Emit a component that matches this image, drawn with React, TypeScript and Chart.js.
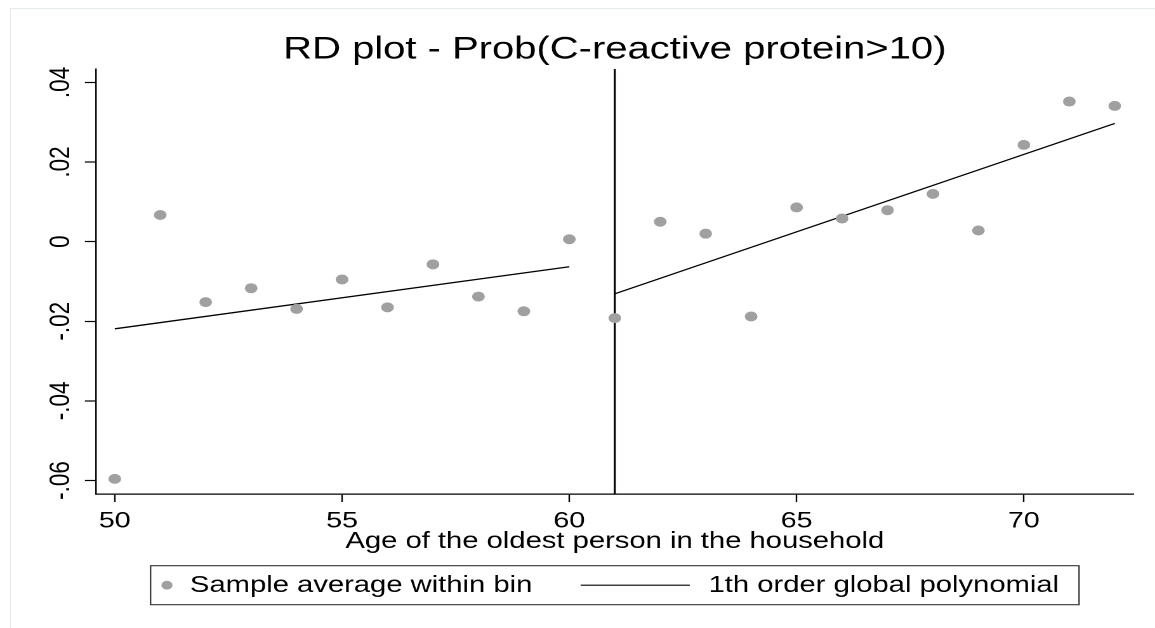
import { useEffect, useRef } from "react";
import { Chart, registerables } from "chart.js";

Chart.register(...registerables);

// ---- data ----
const bins = [50, 51, 52, 53, 54, 55, 56, 57, 58, 59, 60, 61, 62, 63, 64, 65, 66, 67, 68, 69, 70, 71, 72];
const binMeans = [
  -0.0596, 0.0067, -0.0152, -0.0117, -0.0169, -0.0095, -0.0165, -0.0057, -0.0138, -0.0175, 0.0006,
  -0.0192, 0.005, 0.002, -0.0188, 0.0086, 0.0058, 0.0079, 0.012, 0.0028, 0.0243, 0.0352, 0.0341,
];
const leftFitX = [50, 60];
const leftFitY = [-0.0219, -0.0063];
const rightFitX = [61, 72];
const rightFitY = [-0.0131, 0.0297];
const cutoff = 61;

const xTicks = [50, 55, 60, 65, 70];
const xTickLabels = ["50", "55", "60", "65", "70"];
const yTicks = [-0.06, -0.04, -0.02, 0, 0.02, 0.04];
const yTickLabels = ["-.06", "-.04", "-.02", "0", ".02", ".04"];

const titleText = "RD plot - Prob(C-reactive protein>10)";
const xTitle = "Age of the oldest person in the household";
const seriesLabels = ["Sample average within bin", "1th order global polynomial"];

const X_MIN = 49.586;
const X_MAX = 72.416;
const Y_MIN = -0.0634;
const Y_MAX = 0.0434;

// ---- layout / style ----
const FONT = "'Liberation Sans', Arial, Helvetica, sans-serif";
const INNER_W = 910;
const H = 628;
const STRETCH = 1155 / INNER_W;
const POINT_COLOR = "#a0a0a0";

const legendPlugin = {
  id: "stataLegend",
  afterDraw(chart: any) {
    const ctx = chart.ctx as CanvasRenderingContext2D;
    const ca = chart.chartArea;
    const w = 731.5;
    const h = 39;
    const left = (ca.left + ca.right) / 2 - w / 2;
    const top = ca.bottom + 71.7;
    const cy = top + h / 2;
    ctx.save();
    ctx.strokeStyle = "#333";
    ctx.lineWidth = 1.1;
    ctx.strokeRect(left, top, w, h);
    // item 1: marker
    ctx.fillStyle = POINT_COLOR;
    ctx.beginPath();
    ctx.arc(left + 12.9, cy, 4.4, 0, Math.PI * 2);
    ctx.fill();
    ctx.fillStyle = "#000";
    ctx.font = `23px ${FONT}`;
    ctx.textBaseline = "middle";
    ctx.textAlign = "left";
    ctx.fillText(chart.data.datasets[0].label, left + 31, cy + 0.5);
    // item 2: line
    ctx.strokeStyle = "#000";
    ctx.lineWidth = 1.2;
    ctx.beginPath();
    ctx.moveTo(left + 338.8, cy);
    ctx.lineTo(left + 424.8, cy);
    ctx.stroke();
    ctx.fillText(chart.data.datasets[1].label, left + 439.6, cy + 0.5);
    ctx.restore();
  },
};

export default function App() {
  const ref = useRef<HTMLCanvasElement>(null);

  useEffect(() => {
    const canvas = ref.current;
    if (!canvas) return;
    const chart = new Chart(canvas, {
      type: "scatter",
      data: {
        datasets: [
          {
            label: seriesLabels[0],
            data: bins.map((x, i) => ({ x, y: binMeans[i] })),
            pointRadius: 5,
            pointBackgroundColor: POINT_COLOR,
            pointBorderWidth: 0,
            showLine: false,
          },
          {
            label: seriesLabels[1],
            data: leftFitX.map((x, i) => ({ x, y: leftFitY[i] })),
            showLine: true,
            borderColor: "#000",
            borderWidth: 1.3,
            pointRadius: 0,
          },
          {
            label: seriesLabels[1] + " (right)",
            data: rightFitX.map((x, i) => ({ x, y: rightFitY[i] })),
            showLine: true,
            borderColor: "#000",
            borderWidth: 1.3,
            pointRadius: 0,
          },
          {
            label: "cutoff",
            data: [
              { x: cutoff, y: Y_MIN },
              { x: cutoff, y: Y_MAX },
            ],
            showLine: true,
            borderColor: "#000",
            borderWidth: 1.6,
            pointRadius: 0,
          },
        ],
      },
      options: {
        animation: false,
        responsive: true,
        maintainAspectRatio: false,
        devicePixelRatio: 2,
        events: [],
        layout: { padding: { left: 0, right: 16.8, top: 0, bottom: 72.7 } },
        font: { family: FONT },
        plugins: {
          legend: { display: false },
          tooltip: { enabled: false },
          title: {
            display: true,
            text: titleText,
            fullSize: false,
            color: "#000",
            font: { family: FONT, size: 31.5, weight: "normal" },
            padding: { top: 31.1, bottom: 0 },
          },
        },
        scales: {
          x: {
            type: "linear",
            min: X_MIN,
            max: X_MAX,
            afterBuildTicks: (s: any) => {
              s.ticks = xTicks.map((v) => ({ value: v }));
            },
            afterFit: (s: any) => {
              s.height = 61.3;
            },
            ticks: {
              callback: (_v: any, i: number) => xTickLabels[i],
              font: { family: FONT, size: 22.5 },
              color: "#000",
              padding: 5.8,
              maxRotation: 0,
              autoSkip: false,
            },
            grid: {
              drawOnChartArea: false,
              drawTicks: true,
              tickLength: 8,
              tickWidth: 1.2,
              tickColor: "#000",
            },
            border: { display: true, color: "#000", width: 1.3 },
            title: {
              display: true,
              text: xTitle,
              color: "#000",
              font: { family: FONT, size: 23 },
              padding: { top: 0, bottom: 0 },
            },
          },
          y: {
            type: "linear",
            min: Y_MIN,
            max: Y_MAX,
            afterBuildTicks: (s: any) => {
              s.ticks = yTicks.map((v) => ({ value: v }));
            },
            afterFit: (s: any) => {
              s.width = 75.6;
            },
            ticks: {
              callback: (_v: any, i: number) => yTickLabels[i],
              font: { family: FONT, size: 22.5 },
              color: "#000",
              padding: -1,
              minRotation: 90,
              maxRotation: 90,
              crossAlign: "center",
              autoSkip: false,
            },
            grid: {
              drawOnChartArea: false,
              drawTicks: true,
              tickLength: 8.7,
              tickWidth: 1.2,
              tickColor: "#000",
            },
            border: { display: true, color: "#000", width: 1.2 },
          },
        },
      },
      plugins: [legendPlugin],
    } as any);
    return () => chart.destroy();
  }, []);

  return (
    <div
      style={{
        position: "fixed",
        left: 0,
        top: 0,
        width: 1155,
        height: H,
        overflow: "hidden",
        background: "#fff",
      }}
    >
      <div
        style={{
          position: "absolute",
          left: 10,
          top: 8,
          width: 2000,
          height: 2000,
          borderLeft: "1px solid #e3ebed",
          borderTop: "1px solid #e3ebed",
        }}
      />
      <div
        style={{
          position: "absolute",
          left: 0,
          top: 0,
          width: INNER_W,
          height: H,
          transform: `scaleX(${STRETCH})`,
          transformOrigin: "0 0",
        }}
      >
        <canvas ref={ref} />
      </div>
    </div>
  );
}
